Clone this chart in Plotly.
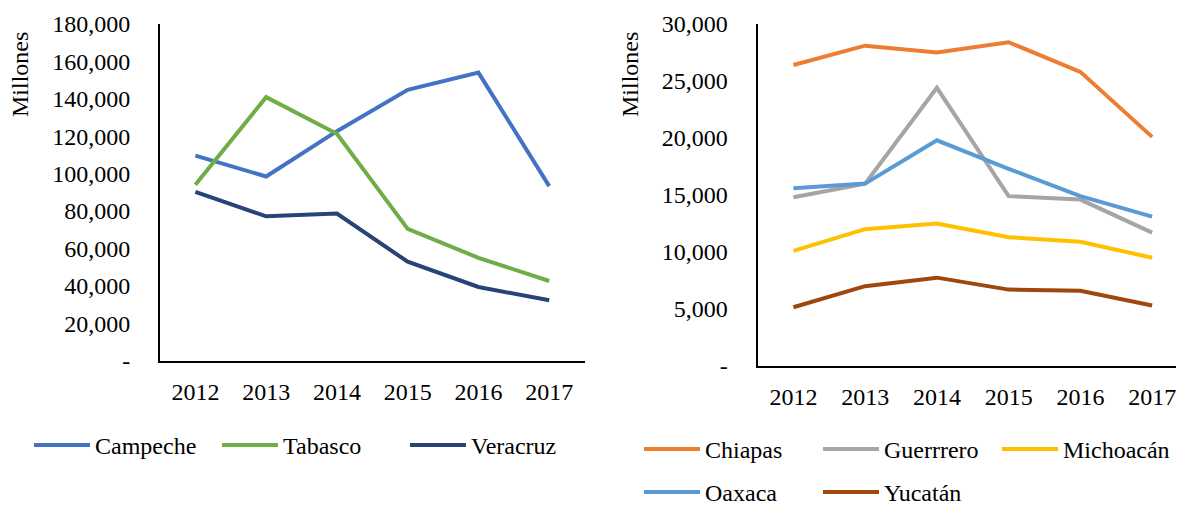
import plotly.graph_objects as go

years = ["2012", "2013", "2014", "2015", "2016", "2017"]

campeche = [109600, 98500, 122700, 144800, 154000, 93300]
tabasco = [94100, 140900, 121300, 70500, 55000, 42600]
veracruz = [90200, 77200, 78700, 52900, 39400, 32300]

chiapas = [26400, 28100, 27500, 28400, 25800, 20100]
guerrero = [14800, 16000, 24400, 14900, 14600, 11700]
michoacan = [10100, 12000, 12500, 11300, 10900, 9500]
oaxaca = [15600, 16000, 19800, 17300, 14900, 13100]
yucatan = [5150, 7000, 7750, 6700, 6600, 5300]

left_tickvals = [0, 20000, 40000, 60000, 80000, 100000, 120000, 140000, 160000, 180000]
left_ticktext = ["-", "20,000", "40,000", "60,000", "80,000", "100,000", "120,000",
                 "140,000", "160,000", "180,000"]
right_tickvals = [0, 5000, 10000, 15000, 20000, 25000, 30000]
right_ticktext = ["-", "5,000", "10,000", "15,000", "20,000", "25,000", "30,000"]

FONT = "Liberation Serif"
FS = 24
W = 4

fig = go.Figure()

left_series = [("Campeche", campeche, "#4472C4", "legend"),
               ("Tabasco", tabasco, "#70AD47", "legend"),
               ("Veracruz", veracruz, "#264478", "legend")]
right_series = [("Chiapas", chiapas, "#ED7D31", "legend2"),
                ("Guerrrero", guerrero, "#A5A5A5", "legend2"),
                ("Michoacán", michoacan, "#FFC000", "legend2"),
                ("Oaxaca", oaxaca, "#5B9BD5", "legend3"),
                ("Yucatán", yucatan, "#9E480E", "legend3")]

for name, vals, col, lg in left_series:
    fig.add_trace(go.Scatter(x=years, y=vals, name=name, mode="lines",
                             line=dict(color=col, width=W),
                             xaxis="x", yaxis="y", legend=lg))
for name, vals, col, lg in right_series:
    fig.add_trace(go.Scatter(x=years, y=vals, name=name, mode="lines",
                             line=dict(color=col, width=W),
                             xaxis="x2", yaxis="y2", legend=lg))

tickfont = dict(family=FONT, size=FS, color="black")
axis_common = dict(showgrid=False, zeroline=False, showline=True, linecolor="black",
                   linewidth=2, ticks="", automargin=False, tickfont=tickfont)

# page is offset by the 8px body margin
FW, FH = 1185, 507
top, bottom = 16, 149
ph = FH - top - bottom
pbot = FH - bottom

legfont = dict(family=FONT, size=FS, color="black")
leg_common = dict(orientation="h", xanchor="left", yanchor="top",
                  xref="container", yref="container",
                  font=legfont, bgcolor="rgba(0,0,0,0)", itemwidth=56,
                  tracegroupgap=0)

fig.update_layout(
    width=FW, height=FH,
    margin=dict(l=0, r=0, t=top, b=bottom),
    paper_bgcolor="white", plot_bgcolor="white",
    font=dict(family=FONT, size=FS, color="black"),
    xaxis=dict(domain=[152/FW, 576.6/FW], anchor="y", type="category",
               range=[-0.5, 5.5], ticklabelstandoff=8, **axis_common),
    yaxis=dict(domain=[5.3/ph, 1], anchor="x", range=[0, 180000],
               tickvals=left_tickvals, ticktext=left_ticktext,
               ticklabelstandoff=23, **axis_common),
    xaxis2=dict(domain=[749.5/FW, 1180/FW], anchor="y2", type="category",
                range=[-0.5, 5.5], ticklabelstandoff=8, **axis_common),
    yaxis2=dict(domain=[0, 1], anchor="x2", range=[0, 30000],
                tickvals=right_tickvals, ticktext=right_ticktext,
                ticklabelstandoff=23, **axis_common),
    legend=dict(x=21/FW, y=1 - 415/FH, entrywidth=117, **leg_common),
    legend2=dict(x=631/FW, y=1 - 419/FH, entrywidth=108, **leg_common),
    legend3=dict(x=631/FW, y=1 - 462/FH, entrywidth=108, **leg_common),
    annotations=[
        dict(text="Millones", textangle=-90, x=12/FW, y=(pbot-67)/ph, xref="paper", yref="paper",
             xanchor="center", yanchor="middle",
             showarrow=False, font=dict(family=FONT, size=FS, color="black")),
        dict(text="Millones", textangle=-90, x=622/FW, y=(pbot-67)/ph, xref="paper", yref="paper",
             xanchor="center", yanchor="middle",
             showarrow=False, font=dict(family=FONT, size=FS, color="black")),
    ],
)

fig.write_html("out.html")
